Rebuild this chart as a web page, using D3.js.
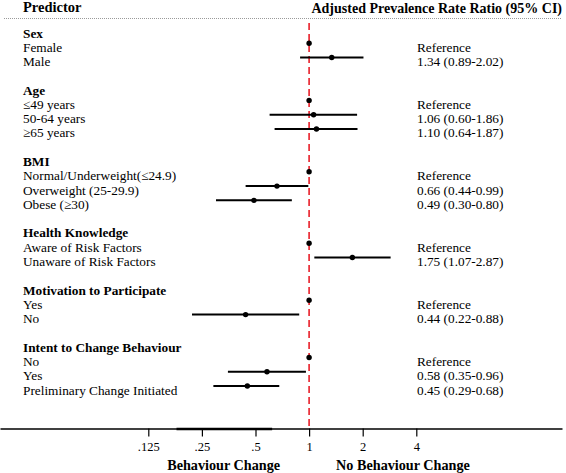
<!DOCTYPE html>
<html><head><meta charset="utf-8">
<script src="https://cdn.jsdelivr.net/npm/d3@7"></script>
<style>body{margin:0;background:#fff}svg{display:block}text{font-family:"Liberation Serif","Times New Roman",serif;fill:#000}</style>
</head><body><svg id="c" width="566" height="473"></svg>
<script>
// Data
const groups = ["Sex","Age","BMI","Health Knowledge","Motivation to Participate","Intent to Change Behaviour"];
const labels = [
  ["Female","Male"],
  ["≤49 years","50-64 years","≥65 years"],
  ["Normal/Underweight(≤24.9)","Overweight (25-29.9)","Obese  (≥30)"],
  ["Aware of Risk Factors","Unaware of Risk Factors"],
  ["Yes","No"],
  ["No","Yes","Preliminary Change Initiated"]
];
const est   = [[1,1.34],[1,1.06,1.10],[1,0.66,0.49],[1,1.75],[1,0.44],[1,0.58,0.45]];
const lower = [[null,0.89],[null,0.60,0.64],[null,0.44,0.30],[null,1.07],[null,0.22],[null,0.35,0.29]];
const upper = [[null,2.02],[null,1.86,1.87],[null,0.99,0.80],[null,2.87],[null,0.88],[null,0.96,0.68]];
const tickValues = [0.125,0.25,0.5,1,2,4];
const tickLabels = [".125",".25",".5","1","2","4"];

// Build rows
const rows = [];
let idx = 0;
groups.forEach((g,gi)=>{
  rows.push({type:"header",text:g,i:idx++});
  labels[gi].forEach((l,li)=>{
    const e = est[gi][li], lo = lower[gi][li], hi = upper[gi][li];
    rows.push({type:"item",text:l,i:idx++,est:e,lo:lo,hi:hi,
      val: lo==null ? "Reference" : `${e.toFixed(2)} (${lo.toFixed(2)}-${hi.toFixed(2)})`});
  });
  idx++;
});

const svg = d3.select("#c");
const x = d3.scaleLog().base(2).domain([0.125,4]).range([148.3,416.3]);
const xAxisScale = d3.scaleLog().base(2).domain([x.invert(0), x.invert(562)]).range([0,562]);
const y = d3.scaleLinear().domain([0,25]).range([29, 29+14.28*25]);
const axisY = 428.5;

// header
svg.append("text").attr("x",23).attr("y",11.5).attr("font-size",14.5).attr("font-weight","bold").text("Predictor");
svg.append("text").attr("x",562).attr("y",13.3).attr("text-anchor","end").attr("font-size",14).attr("font-weight","bold").text("Adjusted Prevalence Rate Ratio (95% CI)");
svg.append("line").attr("x1",4).attr("x2",562).attr("y1",18.5).attr("y2",18.5)
  .attr("stroke","#9a9a9a").attr("stroke-width",1).attr("stroke-dasharray","1,1");

// reference line
svg.append("line").attr("x1",x(1)).attr("x2",x(1)).attr("y1",23).attr("y2",axisY)
  .attr("stroke","#e8202a").attr("stroke-width",1.6).attr("stroke-dasharray","7,4");

// labels
svg.selectAll("text.lab").data(rows).join("text").attr("class","lab")
  .attr("x",23).attr("y",d=>y(d.i)+8.5).attr("font-size",13.3)
  .attr("font-weight",d=>d.type==="header"?"bold":"normal").text(d=>d.text);

const items = rows.filter(d=>d.type==="item");
svg.selectAll("text.val").data(items).join("text").attr("class","val")
  .attr("x",417).attr("y",d=>y(d.i)+8.5).attr("font-size",13.3).text(d=>d.val);

// CIs
svg.selectAll("line.ci").data(items.filter(d=>d.lo!=null)).join("line").attr("class","ci")
  .attr("x1",d=>x(d.lo)).attr("x2",d=>x(d.hi)).attr("y1",d=>y(d.i)).attr("y2",d=>y(d.i))
  .attr("stroke","#000").attr("stroke-width",2);
svg.selectAll("circle.pt").data(items).join("circle").attr("class","pt")
  .attr("cx",d=>x(d.est)).attr("cy",d=>y(d.i)).attr("r",2.7).attr("fill","#000");

// axis
const ax = svg.append("g").attr("transform",`translate(0,${axisY})`)
  .call(d3.axisBottom(xAxisScale).tickValues(tickValues).tickFormat((d,i)=>tickLabels[i]).tickSizeInner(8).tickSizeOuter(0));
ax.select(".domain").attr("stroke","#000").attr("stroke-width",1.6);
ax.selectAll(".tick line").attr("stroke","#000").attr("stroke-width",1.2);
ax.selectAll(".tick text").attr("font-size",12.5).attr("font-family","Liberation Serif").attr("dy","0.95em");
svg.append("line").attr("x1",xAxisScale(0.18)).attr("x2",xAxisScale(0.62)).attr("y1",axisY+0.5).attr("y2",axisY+0.5)
  .attr("stroke","#000").attr("stroke-width",2.4);

svg.append("text").attr("x",x(1)-29).attr("y",470).attr("text-anchor","end").attr("font-size",14.2).attr("font-weight","bold").text("Behaviour Change");
svg.append("text").attr("x",x(1)+27).attr("y",470).attr("text-anchor","start").attr("font-size",14.2).attr("font-weight","bold").text("No Behaviour Change");
</script></body></html>
